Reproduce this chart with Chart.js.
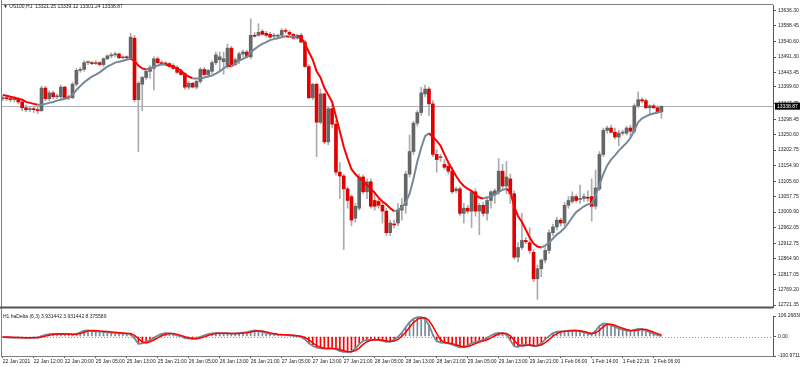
<!DOCTYPE html>
<html>
<head>
<meta charset="utf-8">
<script src="https://cdn.jsdelivr.net/npm/chart.js@4.4.0/dist/chart.umd.min.js"></script>
<style>
body{margin:0;background:#fff;width:800px;height:367px;overflow:hidden;position:relative;font-family:"Liberation Sans","DejaVu Sans",sans-serif}
#main{position:absolute;left:0;top:0}
#sub{position:absolute;left:0;top:311px}
.t{position:absolute;font-size:5px;line-height:6px;color:#222;white-space:pre}
</style>
</head>
<body>
<canvas id="main" width="800" height="312"></canvas>
<canvas id="sub" width="800" height="56"></canvas>
<div class="t" style="left:3px;top:3px">▼ US100,H1  13321.25 13339.12 13301.24 13338.87</div>
<div class="t" style="left:3px;top:313px">H1 haDelta (6,3) 3.931442 3.931442 8.375589</div>
<script>
// US100 H1, 22 Jan 2021 04:00 .. 2 Feb 2021
var timeLabels = ['22 Jan 2021','22 Jan 12:00','22 Jan 20:00','25 Jan 05:00','25 Jan 13:00','25 Jan 21:00',
  '26 Jan 05:00','26 Jan 13:00','26 Jan 21:00','27 Jan 05:00','27 Jan 13:00','27 Jan 21:00','28 Jan 05:00',
  '28 Jan 13:00','28 Jan 21:00','29 Jan 05:00','29 Jan 13:00','29 Jan 21:00','1 Feb 06:00','1 Feb 14:00',
  '1 Feb 22:16','2 Feb 06:00'];

var priceTicks = [13636.30,13588.45,13540.60,13491.30,13443.45,13399.60,13347.75,13298.45,13250.60,13202.75,
  13154.90,13105.60,13057.75,13009.90,12962.05,12912.75,12864.90,12817.05,12769.20,12721.35];

var opens = [
  13362,13365,13362,13359,13362,13352,13334,13328,13331,13328,
  13325,13395,13362,13380,13368,13368,13398,13368,13365,13407,
  13450,13453,13474,13474,13471,13474,13468,13486,13495,13498,
  13501,13489,13492,13489,13550,13359,13407,13428,13447,13456,
  13486,13474,13471,13471,13465,13459,13447,13440,13398,13410,
  13398,13416,13453,13437,13447,13474,13483,13477,13462,13519,
  13468,13480,13501,13507,13492,13559,13559,13571,13565,13562,
  13556,13556,13559,13574,13568,13562,13550,13559,13538,13462,
  13365,13407,13289,13377,13228,13331,13283,13134,13122,13082,
  13058,12991,13022,13119,13073,13104,13046,13043,13031,13013,
  12946,12973,12976,13016,13031,13128,13198,13286,13319,13377,
  13392,13346,13189,13179,13158,13152,13137,13076,13082,13006,
  13022,13013,13073,13013,13031,13006,13046,13064,13073,13137,
  13091,13113,13067,12870,12900,12922,12915,12885,12803,12834,
  12861,12891,12946,12964,12985,12976,13031,13043,13058,13049,
  13052,13055,13058,13028,13082,13189,13264,13271,13258,13243,
  13255,13255,13271,13261,13340,13359,13356,13334,13340,13334,
  13321.25];
var highs = [
  13371,13371,13368,13368,13365,13359,13343,13337,13337,13337,
  13401,13401,13386,13386,13377,13404,13401,13374,13413,13456,
  13459,13480,13480,13477,13480,13477,13489,13498,13504,13507,
  13504,13495,13495,13565,13559,13416,13431,13450,13465,13492,
  13492,13480,13477,13474,13471,13465,13453,13444,13416,13413,
  13419,13459,13459,13453,13480,13507,13507,13507,13532,13525,
  13489,13507,13513,13513,13610,13568,13595,13577,13571,13568,
  13565,13562,13580,13580,13574,13565,13562,13565,13544,13468,
  13410,13410,13392,13380,13337,13343,13295,13164,13128,13088,
  13064,13037,13128,13125,13113,13113,13067,13052,13040,13022,
  12985,12985,13037,13052,13137,13249,13292,13325,13398,13404,
  13398,13356,13204,13189,13173,13164,13149,13088,13088,13037,
  13031,13076,13082,13037,13040,13058,13076,13082,13176,13158,
  13167,13128,13076,12915,13006,12931,12961,12894,12846,12864,
  12900,12955,12973,12994,12991,13040,13058,13073,13064,13094,
  13067,13076,13113,13140,13198,13271,13277,13280,13271,13264,
  13264,13277,13280,13346,13383,13365,13362,13343,13346,13340,
  13339.12];
var lows = [
  13356,13356,13352,13352,13346,13325,13322,13322,13319,13316,
  13322,13356,13356,13362,13362,13362,13362,13359,13362,13401,
  13444,13447,13468,13468,13468,13465,13462,13483,13489,13492,
  13486,13486,13486,13486,13352,13198,13325,13422,13425,13389,
  13471,13468,13465,13459,13453,13440,13434,13392,13392,13395,
  13392,13410,13434,13431,13440,13468,13447,13437,13456,13465,
  13465,13471,13492,13489,13486,13553,13556,13559,13553,13550,
  13550,13550,13556,13565,13556,13547,13547,13535,13459,13362,
  13359,13182,13283,13222,13219,13271,13125,13052,12894,13022,
  12967,12979,13016,13067,13052,13022,13016,13022,12976,12937,
  12937,12961,12967,12985,13006,13119,13189,13277,13310,13368,
  13310,13182,13134,13167,13143,13128,13067,13070,13000,12976,
  13006,12961,12997,12940,12997,12985,13022,13037,13064,13082,
  13067,13037,12864,12855,12894,12912,12882,12794,12739,12809,
  12852,12882,12937,12955,12967,12967,13022,13037,13040,13037,
  13043,13043,12982,13019,13076,13182,13255,13255,13237,13216,
  13249,13249,13243,13255,13334,13349,13331,13316,13331,13316,
  13301.24];
var closes = [
  13365,13362,13359,13362,13352,13334,13328,13331,13328,13325,
  13395,13362,13380,13368,13371,13398,13365,13365,13407,13450,
  13453,13474,13475,13471,13474,13468,13486,13495,13498,13501,
  13489,13492,13489,13553,13359,13410,13428,13447,13459,13486,
  13474,13471,13470,13462,13456,13444,13437,13398,13410,13398,
  13416,13453,13437,13450,13474,13498,13492,13486,13519,13468,
  13483,13501,13507,13492,13559,13556,13568,13562,13559,13553,
  13559,13557,13574,13571,13562,13550,13559,13538,13462,13365,
  13407,13289,13377,13228,13331,13283,13134,13122,13082,13046,
  12985,13028,13119,13073,13104,13028,13028,13031,13013,12946,
  12976,12970,13016,13031,13128,13198,13286,13319,13380,13392,
  13346,13189,13173,13180,13149,13137,13073,13082,13006,13022,
  13013,13073,13013,13031,13006,13046,13073,13076,13137,13091,
  13119,13067,12870,12900,12922,12918,12891,12803,12834,12861,
  12891,12946,12964,12985,12976,13031,13046,13058,13046,13052,
  13058,13053,13028,13085,13189,13264,13271,13258,13243,13255,
  13257,13271,13261,13340,13359,13355,13334,13340,13334,13321,
  13338.87];

// moving average drawn over the candles
var maLine = [
  13374,13371,13368,13365,13362,13359,13352,13349,13346,13343,
  13343,13346,13349,13352,13356,13359,13362,13365,13374,13389,
  13401,13413,13422,13431,13437,13444,13453,13462,13468,13474,
  13477,13480,13483,13486,13480,13465,13456,13453,13456,13462,
  13465,13468,13468,13465,13462,13456,13450,13437,13431,13425,
  13425,13425,13428,13431,13434,13440,13447,13456,13465,13462,
  13471,13480,13486,13492,13507,13516,13525,13532,13538,13544,
  13547,13550,13553,13556,13554,13555,13556,13553,13532,13507,
  13483,13447,13428,13395,13374,13352,13307,13261,13213,13176,
  13143,13128,13116,13107,13094,13082,13070,13055,13043,13034,
  13022,13013,13016,13025,13040,13067,13113,13167,13210,13246,
  13255,13243,13231,13216,13189,13164,13143,13122,13104,13091,
  13082,13076,13064,13055,13052,13055,13058,13064,13073,13079,
  13082,13073,13028,12997,12979,12955,12931,12912,12903,12900,
  12906,12915,12928,12940,12949,12961,12976,12994,13010,13019,
  13028,13034,13037,13061,13094,13128,13155,13173,13186,13201,
  13213,13225,13240,13264,13289,13301,13307,13313,13316,13319,
  13322];

// haDelta (6,3) sub window
var deltaHist = [
  -3,-4,-5,-6,-6,-6,-7,-7,-6,-5,
  2,8,12,14,14,13,13,14,10,13,
  22,31,32,29,27,26,24,22,20,19,
  17,16,15,14,-10,-38,-36,-28,-18,-8,
  5,14,17,16,12,6,0,-8,-11,-12,
  -10,-2,6,12,16,18,18,16,16,15,
  16,18,20,22,28,31,29,24,18,14,
  12,10,9,8,6,4,2,-2,-15,-35,
  -48,-58,-62,-63,-62,-60,-66,-76,-80,-80,
  -78,-62,-40,-22,-18,-16,-17,-18,-22,-28,
  -27,-15,-2,20,48,75,92,100,100,90,
  60,10,-25,-32,-33,-36,-42,-50,-56,-55,
  -45,-35,-28,-24,-18,-8,5,15,19,18,
  12,-20,-50,-55,-42,-42,-46,-50,-47,-35,
  -15,2,18,25,27,28,30,32,30,27,
  22,15,12,30,55,68,66,58,50,42,
  36,30,28,35,40,38,30,22,14,8,
  3.931442];
var deltaSignal = [
  -3,-3,-4,-5,-5,-6,-6,-6,-6,-6,
  -3,2,7,11,13,14,13,13,12,12,
  15,22,28,31,30,28,27,26,24,22,
  20,18,16,15,6,-11,-28,-34,-27,-18,
  -7,4,12,16,15,11,6,-1,-6,-10,
  -11,-8,-2,5,11,15,17,17,17,16,
  16,16,18,20,23,27,29,28,24,19,
  15,12,10,9,8,6,4,1,-5,-17,
  -33,-47,-56,-61,-62,-62,-63,-67,-74,-79,
  -79,-73,-60,-41,-27,-19,-17,-17,-19,-23,
  -26,-23,-15,1,22,48,72,89,97,97,
  83,53,15,-16,-30,-34,-37,-43,-49,-54,
  -52,-45,-36,-29,-23,-17,-7,4,13,17,
  16,3,-19,-42,-49,-46,-43,-46,-48,-44,
  -32,-16,2,15,23,27,28,30,31,30,
  26,21,16,19,32,51,63,64,58,50,
  43,36,31,31,34,38,36,30,22,15,
  8.375589];
var deltaTicks = [106.268308, 0, -100.97111];
var deltaTickText = ['106.268308', '0.00', '-100.97111'];
var lastPrice = 13338.87;

var RED = '#e00000', GREY = '#666666', WICK = '#ababab', SLATE = '#778899';
var FONT = {family: '"Liberation Sans", "DejaVu Sans", sans-serif', size: 5};
var XMIN = -0.2, XMAX = 198.8;

var idx = opens.map(function (v, i) { return i; });
var up = idx.map(function (i) { return closes[i] >= opens[i]; });

// frame lines round the plot area
var framePlugin = {
  id: 'frame',
  afterDraw: function (chart, args, opts) {
    var ctx = chart.ctx, a = chart.chartArea;
    ctx.save();
    ctx.strokeStyle = '#808080';
    ctx.lineWidth = 1;
    ctx.beginPath();
    ctx.moveTo(1.5, 0); ctx.lineTo(1.5, opts.bottom ? a.bottom : chart.height);
    if (opts.top) { ctx.moveTo(1.5, a.top - 0.5); ctx.lineTo(a.right, a.top - 0.5); }
    if (opts.bottom) { ctx.moveTo(1, a.bottom + 0.5); ctx.lineTo(a.right, a.bottom + 0.5); }
    ctx.stroke();
    if (opts.split) {
      ctx.strokeStyle = '#555';
      ctx.lineWidth = 2;
      ctx.beginPath();
      ctx.moveTo(0, a.bottom + 0.5); ctx.lineTo(a.right, a.bottom + 0.5);
      ctx.stroke();
    }
    ctx.restore();
  }
};

var pricePlugin = {
  id: 'priceLine',
  beforeDatasetsDraw: function (chart) {
    var ctx = chart.ctx, a = chart.chartArea;
    var py = Math.round(chart.scales.y.getPixelForValue(lastPrice)) + 0.5;
    ctx.save();
    ctx.strokeStyle = '#aab2ba';
    ctx.lineWidth = 1;
    ctx.beginPath(); ctx.moveTo(a.left, py); ctx.lineTo(a.right, py); ctx.stroke();
    ctx.restore();
  },
  afterDraw: function (chart) {
    var ctx = chart.ctx, a = chart.chartArea;
    var py = chart.scales.y.getPixelForValue(lastPrice);
    ctx.save();
    ctx.fillStyle = '#000';
    ctx.fillRect(a.right + 2, py - 3.5, 25, 7);
    ctx.fillStyle = '#fff';
    ctx.font = '5px "Liberation Sans", sans-serif';
    ctx.textBaseline = 'middle';
    ctx.fillText(lastPrice.toFixed(2), a.right + 4, py);
    ctx.restore();
  }
};

var zeroPlugin = {
  id: 'zeroLine',
  beforeDatasetsDraw: function (chart) {
    var ctx = chart.ctx, a = chart.chartArea;
    var py = Math.round(chart.scales.y.getPixelForValue(0)) + 0.5;
    ctx.save();
    ctx.strokeStyle = '#9a9a9a';
    ctx.setLineDash([1, 2]);
    ctx.beginPath(); ctx.moveTo(a.left, py); ctx.lineTo(a.right + 3, py); ctx.stroke();
    ctx.restore();
  }
};

new Chart(document.getElementById('main'), {
  type: 'bar',
  data: {
    datasets: [{
      label: 'wick',
      data: idx.map(function (i) { return {x: i, y: [lows[i], highs[i]]}; }),
      backgroundColor: WICK,
      barThickness: 1,
      minBarLength: 1,
      grouped: false,
      order: 3
    }, {
      label: 'body',
      data: idx.map(function (i) { return {x: i, y: [opens[i], closes[i]]}; }),
      backgroundColor: idx.map(function (i) { return up[i] ? GREY : RED; }),
      barThickness: 3,
      minBarLength: 1,
      grouped: false,
      order: 2
    }, {
      type: 'line',
      label: 'ma',
      data: idx.map(function (i) { return {x: i, y: maLine[i]}; }),
      pointRadius: 0,
      borderWidth: 2,
      borderColor: SLATE,
      segment: {
        borderColor: function (c) { return c.p1.parsed.y < c.p0.parsed.y ? '#ff0000' : SLATE; }
      },
      order: 1
    }]
  },
  options: {
    responsive: false,
    animation: false,
    layout: {padding: {left: 2, top: 2, right: 0, bottom: 1}},
    plugins: {legend: {display: false}, tooltip: {enabled: false}, frame: {top: true, split: true}},
    scales: {
      x: {type: 'linear', min: XMIN, max: XMAX, offset: false, grid: {offset: false}, display: false},
      y: {
        position: 'right',
        min: 12715.28,
        max: 13652.99,
        afterBuildTicks: function (s) { s.ticks = priceTicks.map(function (v) { return {value: v}; }); },
        afterFit: function (s) { s.width = 27; },
        ticks: {font: FONT, color: '#222', padding: 2, callback: function (v) { return v.toFixed(2); }},
        grid: {drawOnChartArea: false, tickLength: 3, color: '#555'},
        border: {color: '#555'}
      }
    }
  },
  plugins: [framePlugin, pricePlugin]
});

new Chart(document.getElementById('sub'), {
  type: 'bar',
  data: {
    datasets: [{
      label: 'hist',
      data: idx.map(function (i) { return {x: i, y: deltaHist[i]}; }),
      backgroundColor: idx.map(function (i) { return deltaHist[i] >= 0 ? SLATE : '#ff0000'; }),
      barThickness: 1,
      grouped: false,
      order: 3
    }, {
      type: 'line',
      label: 'delta',
      data: idx.map(function (i) { return {x: i, y: deltaHist[i]}; }),
      pointRadius: 0,
      borderWidth: 1.8,
      borderColor: SLATE,
      order: 2
    }, {
      type: 'line',
      label: 'signal',
      data: idx.map(function (i) { return {x: i, y: deltaSignal[i]}; }),
      pointRadius: 0,
      borderWidth: 1.5,
      borderColor: '#ff0000',
      order: 1
    }]
  },
  options: {
    responsive: false,
    animation: false,
    layout: {padding: {left: 2, top: 2.5, right: 0, bottom: 0}},
    plugins: {legend: {display: false}, tooltip: {enabled: false}, frame: {bottom: true}},
    scales: {
      x: {
        type: 'linear', min: XMIN, max: XMAX, offset: false,
        afterBuildTicks: function (s) { s.ticks = timeLabels.map(function (t, k) { return {value: k * 8}; }); },
        afterFit: function (s) { s.height = 11; },
        ticks: {font: FONT, color: '#222', padding: 1, maxRotation: 0, autoSkip: false, align: 'start',
          callback: function (v) { return timeLabels[Math.round(v / 8)]; }},
        grid: {drawOnChartArea: false, tickLength: 2, color: '#555', offset: false},
        border: {display: false}
      },
      y: {
        position: 'right',
        min: -100.97111,
        max: 106.268308,
        afterBuildTicks: function (s) { s.ticks = deltaTicks.map(function (v) { return {value: v}; }); },
        afterFit: function (s) { s.width = 27; },
        ticks: {font: FONT, color: '#222', padding: 2,
          callback: function (v, i) { return deltaTickText[i]; }},
        grid: {drawOnChartArea: false, tickLength: 3, color: '#555'},
        border: {color: '#555'}
      }
    }
  },
  plugins: [framePlugin, zeroPlugin]
});
</script>
</body>
</html>
